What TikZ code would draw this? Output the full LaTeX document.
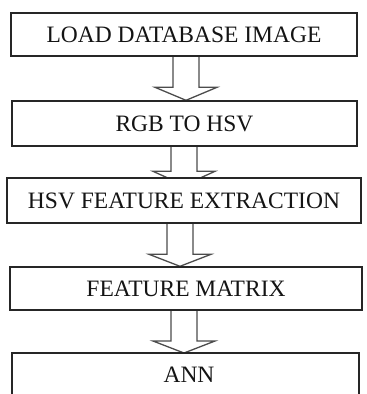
\documentclass[tikz,border=0pt]{standalone}
\usepackage{fontspec}
\setmainfont{Liberation Serif}
\usetikzlibrary{calc}
\pgfdeclarelayer{background}
\pgfsetlayers{background,main}
\tikzset{
  txt/.style={font=\fontsize{23.5bp}{27bp}\selectfont, text=black!92},
  box/.style={txt, draw=black!85, line width=1.4bp, fill=white, inner sep=0pt},
  hollow/.style={draw=black!70, line width=1.3bp, fill=white, line join=miter}
}
\newcommand{\hollowarrow}[5]{%
  % #1 from node, #2 to node, #3 centre x, #4 head length, #5 tip shift below target top
  \draw[hollow] let \p1=(#1.south), \p2=(#2.north) in
    (#3bp-13bp,\y1) -- (#3bp-13bp,\y2-#5bp+#4bp) -- (#3bp-31bp,\y2-#5bp+#4bp)
    -- (#3bp,\y2-#5bp) -- (#3bp+31bp,\y2-#5bp+#4bp) -- (#3bp+13bp,\y2-#5bp+#4bp)
    -- (#3bp+13bp,\y1);}
\begin{document}
\begin{tikzpicture}[x=1bp,y=-1bp]
\useasboundingbox (0,0) rectangle (367,394);
% boxes
\node[box, minimum width=346bp, minimum height=43bp] (n1) at (184,34.5) {LOAD DATABASE IMAGE};
\node[box, minimum width=345bp, minimum height=45bp] (n2) at (184.5,123.5) {RGB TO HSV};
\node[box, minimum width=354bp, minimum height=45bp] (n3) at (184,200.5) {HSV FEATURE EXTRACTION};
\node[box, minimum width=352bp, minimum height=43bp] (n4) at (186,288.5) {FEATURE MATRIX};
% last box, cut off by the bottom edge
\coordinate (n5tl) at (12,353);
\coordinate (n5tr) at (359,353);
\coordinate (n5top) at (185.5,353);
\draw[black!85, line width=1.4bp] (n5tl |- 0,396) -- (n5tl) -- (n5tr) -- (n5tr |- 0,396);
\node[txt, inner sep=0pt] (n5) at (189,375) {ANN};
% hollow block arrows behind the boxes
\begin{pgfonlayer}{background}
\hollowarrow{n1}{n2}{186}{13}{0}
\hollowarrow{n2}{n3}{184}{14}{8}
\hollowarrow{n3}{n4}{180}{12}{0}
\hollowarrow{n4}{n5top}{184}{12}{0}
\end{pgfonlayer}
\end{tikzpicture}
\end{document}
